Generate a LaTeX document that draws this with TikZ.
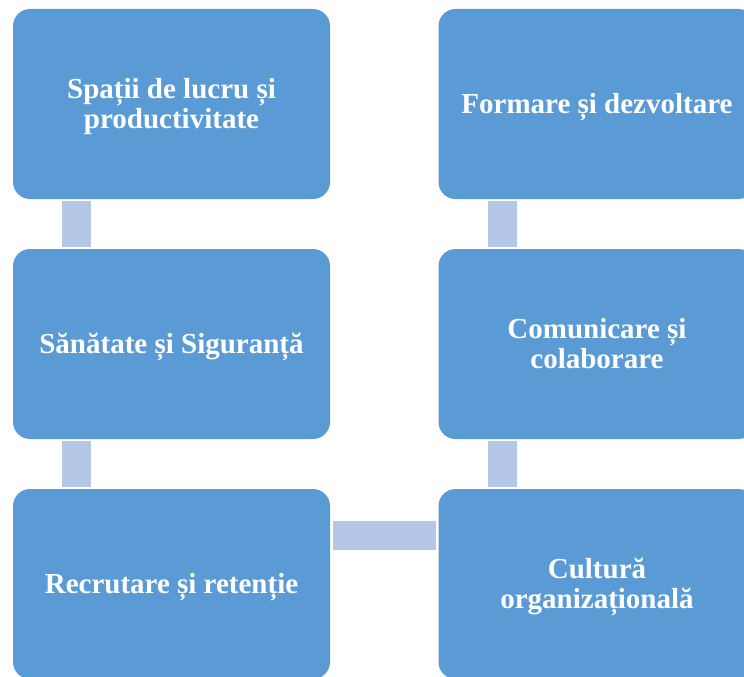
\documentclass[tikz,border=0pt]{standalone}
\usepackage{fontspec}
\setmainfont{Liberation Serif}
\usetikzlibrary{calc}
\definecolor{boxblue}{HTML}{5B9BD5}
\definecolor{linkblue}{HTML}{B4C7E7}
\newcommand{\cardtext}[1]{\raisebox{0pt}[\dimexpr\height+7pt\relax][\depth]{\begin{tabular}{@{}c@{}}#1\end{tabular}}}
\begin{document}
\begin{tikzpicture}[x=1pt,y=1pt,
  card/.style={draw=none, fill=boxblue, rounded corners=17pt, minimum width=317pt, minimum height=190pt,
    inner sep=0pt, text=white, align=center, font=\fontsize{29}{30}\selectfont\bfseries},
  link/.style={fill=linkblue}]
\useasboundingbox (0,0) rectangle (744,-677);
\clip (0,0) rectangle (744,-677);
\node[card] (a) at (171.5,-104) {\cardtext{Spații de lucru și\\productivitate}};
\node[card] (b) at (171.5,-344) {\cardtext{Sănătate și Siguranță}};
\node[card] (c) at (171.5,-584) {\cardtext{Recrutare și retenție}};
\node[card] (d) at (597,-104) {\cardtext{Formare și dezvoltare}};
\node[card] (e) at (597,-344) {\cardtext{Comunicare și\\colaborare}};
\node[card] (f) at (597,-584) {\cardtext{Cultură\\organizațională}};
\fill[link] ($(a.south west)+(49,-2)$) rectangle ($(b.north west)+(78,2)$);
\fill[link] ($(b.south west)+(49,-2)$) rectangle ($(c.north west)+(78,2)$);
\fill[link] ($(d.south west)+(50,-2)$) rectangle ($(e.north west)+(79,2)$);
\fill[link] ($(e.south west)+(50,-2)$) rectangle ($(f.north west)+(79,2)$);
\fill[link] ($(c.north east)+(3,-32)$) rectangle ($(f.north west)+(-2,-61)$);
\end{tikzpicture}
\end{document}
